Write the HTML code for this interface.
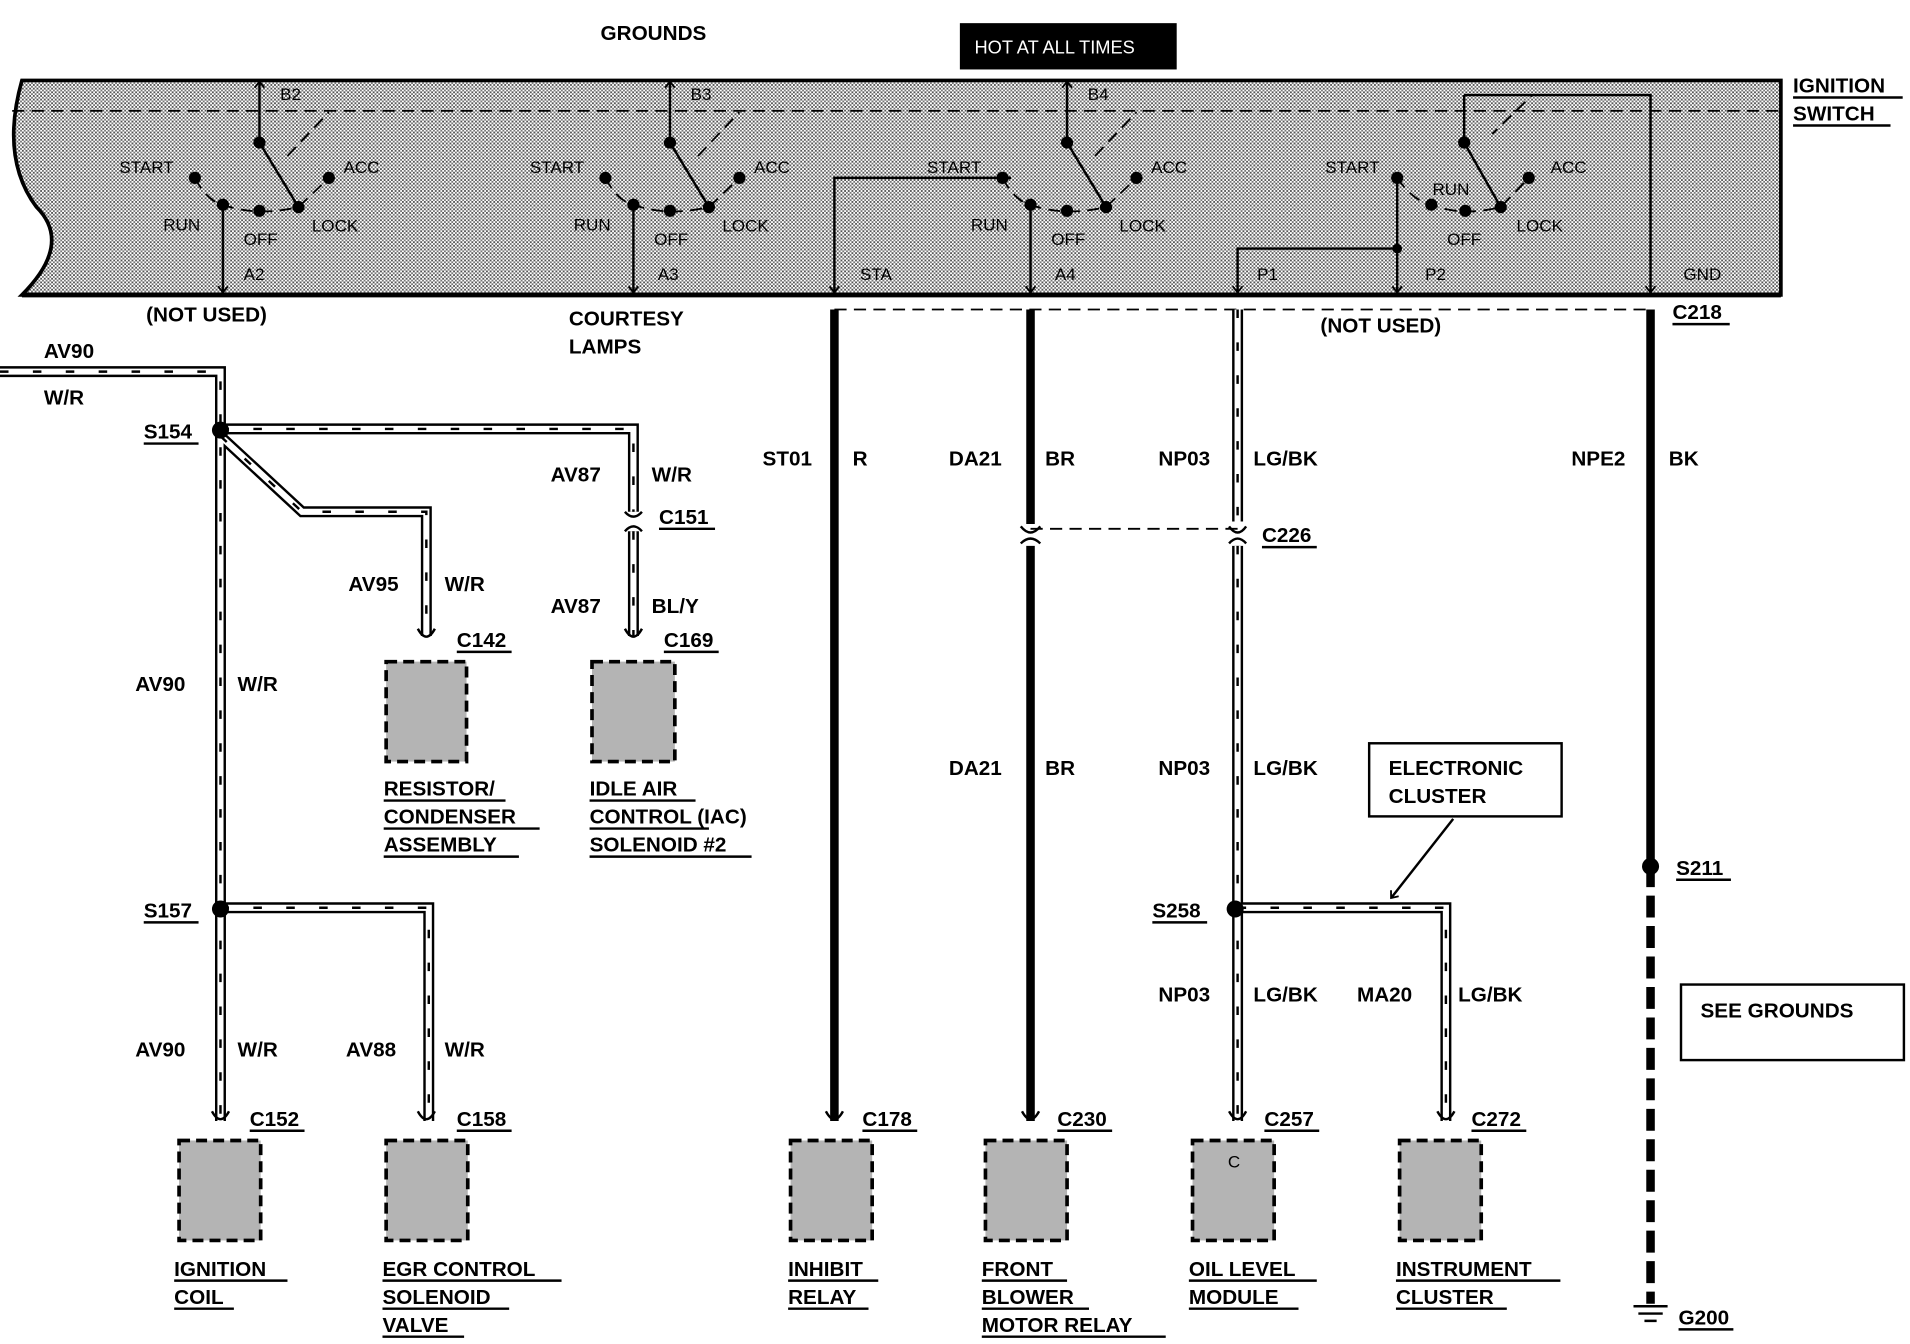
<!DOCTYPE html>
<html><head><meta charset="utf-8"><style>
html,body{margin:0;padding:0;background:#fff}
svg{display:block}
text{font-family:"Liberation Sans",Arial,sans-serif;font-weight:bold;font-size:17px;fill:#000}
.s{font-size:14px;font-weight:normal}
.w1{stroke:#000;stroke-width:9;fill:none}
.w2{stroke:#fff;stroke-width:5;fill:none}
.w3{stroke:#000;stroke-width:2;fill:none;stroke-dasharray:7 20}
.th{stroke:#000;stroke-width:7;fill:none}
.ln{stroke:#000;stroke-width:2;fill:none}
.dl{stroke:#000;stroke-width:1.5;fill:none;stroke-dasharray:10 6}
.box{fill:#b4b4b4;stroke:#000;stroke-width:3;stroke-dasharray:9 5}
</style></head><body>
<svg width="1910" height="1344" viewBox="0 0 1568 1103" preserveAspectRatio="none" xmlns="http://www.w3.org/2000/svg">
<defs>
<pattern id="st" width="3" height="3" patternUnits="userSpaceOnUse"><rect width="3" height="3" fill="#fff"/><rect width="1.5" height="1.5" fill="#555"/><rect x="1.5" y="1.5" width="1.5" height="1.5" fill="#777"/></pattern>
<marker id="ar" markerWidth="10" markerHeight="10" refX="8" refY="5" orient="auto" markerUnits="userSpaceOnUse"><path d="M3,1 L8,5 L3,9" stroke="#000" stroke-width="1.5" fill="none"/></marker>
<g id="sw">
 <path d="M213,95 V67" class="ln" marker-end="url(#ar)"/>
 <path d="M213,95 V117 L245,170" class="ln" stroke-width="3"/>
 <path d="M236,128 L270,92" class="dl"/>
 <path d="M160,146 Q170,165 183,168 Q210,178 245,170 L270,146" class="dl"/>
 <circle cx="213" cy="117" r="5"/><circle cx="160" cy="146" r="5"/><circle cx="183" cy="168" r="5"/><circle cx="213" cy="173" r="5"/><circle cx="245" cy="170" r="5"/><circle cx="270" cy="146" r="5"/>
 <text x="98" y="142" class="s">START</text><text x="282" y="142" class="s">ACC</text>
 <text x="134" y="189" class="s">RUN</text><text x="200" y="201" class="s">OFF</text><text x="256" y="190" class="s">LOCK</text>
</g>
</defs>
<text x="493" y="33">GROUNDS</text>
<rect x="788" y="19" width="178" height="38" fill="#000"/>
<text x="800" y="44" style="fill:#fff;font-weight:normal;font-size:15px">HOT AT ALL TIMES</text>
<text x="1472" y="76">IGNITION</text><text x="1472" y="99">SWITCH</text>
<line x1="1472" y1="80" x2="1562" y2="80" class="ln"/><line x1="1472" y1="103" x2="1552" y2="103" class="ln"/>
<path d="M18,66 H1462 V242 H18 Q60,200 30,170 Q0,130 18,66 Z" fill="url(#st)" stroke="#000" stroke-width="3"/>
<line x1="18" y1="242" x2="1462" y2="242" stroke="#000" stroke-width="4"/>
<path d="M10,91 H1460" class="dl"/>
<use href="#sw"/>
<use href="#sw" x="337"/>
<use href="#sw" x="663"/>
<text x="230" y="82" class="s">B2</text><text x="567" y="82" class="s">B3</text><text x="893" y="82" class="s">B4</text>
<path d="M1202,78 H1258 L1225,110" class="dl"/>
<path d="M1202,78 V117 L1232,170" class="ln" stroke-width="3"/>
<path d="M1147,146 Q1160,165 1175,168 Q1200,178 1232,170 L1255,146" class="dl"/>
<circle cx="1202" cy="117" r="5"/><circle cx="1147" cy="146" r="5"/><circle cx="1175" cy="168" r="5"/><circle cx="1203" cy="173" r="5"/><circle cx="1232" cy="170" r="5"/><circle cx="1255" cy="146" r="5"/>
<text x="1088" y="142" class="s">START</text><text x="1273" y="142" class="s">ACC</text><text x="1176" y="160" class="s">RUN</text><text x="1188" y="201" class="s">OFF</text><text x="1245" y="190" class="s">LOCK</text>
<path d="M1202,78 H1355 V240" class="ln" marker-end="url(#ar)"/>
<path d="M1147,146 V240" class="ln" marker-end="url(#ar)"/>
<path d="M1147,204 H1016 V240" class="ln" marker-end="url(#ar)"/>
<circle cx="1147" cy="204" r="4"/>
<path d="M183,168 V240" class="ln" marker-end="url(#ar)"/>
<path d="M520,168 V240" class="ln" marker-end="url(#ar)"/>
<path d="M846,168 V240" class="ln" marker-end="url(#ar)"/>
<path d="M830,146 H685 V240" class="ln" marker-end="url(#ar)"/>
<text x="200" y="230" class="s">A2</text><text x="540" y="230" class="s">A3</text><text x="706" y="230" class="s">STA</text><text x="866" y="230" class="s">A4</text><text x="1032" y="230" class="s">P1</text><text x="1170" y="230" class="s">P2</text><text x="1382" y="230" class="s">GND</text>
<text x="120" y="264">(NOT USED)</text>
<text x="467" y="267">COURTESY</text><text x="467" y="290">LAMPS</text>
<text x="1084" y="273">(NOT USED)</text>
<text x="1373" y="262">C218</text><line x1="1373" y1="266" x2="1420" y2="266" class="ln"/>
<path d="M685,254 H1355" class="dl" stroke-width="2.5"/>
<path d="M0,305 H181 V920 M181,352 H520 V420 M520,436 V522 M181,358 L248,420 H350 V522 M181,745 H352 V920" class="w1"/>
<path d="M0,305 H181 V920 M181,352 H520 V420 M520,436 V522 M181,358 L248,420 H350 V522 M181,745 H352 V920" class="w2"/>
<path d="M0,305 H181 V920 M181,352 H520 V420 M520,436 V522 M181,358 L248,420 H350 V522 M181,745 H352 V920" class="w3"/>
<path d="M513,420 Q520,428 527,420 M513,436 Q520,428 527,436" class="ln"/>
<circle cx="181" cy="353" r="7"/><circle cx="181" cy="746" r="7"/>
<text x="36" y="294">AV90</text><text x="36" y="332">W/R</text>
<text x="118" y="360">S154</text><line x1="118" y1="364" x2="163" y2="364" class="ln"/>
<text x="118" y="753">S157</text><line x1="118" y1="757" x2="163" y2="757" class="ln"/>
<text x="452" y="395">AV87</text><text x="535" y="395">W/R</text>
<text x="541" y="430">C151</text><line x1="541" y1="434" x2="587" y2="434" class="ln"/>
<text x="286" y="485">AV95</text><text x="365" y="485">W/R</text>
<text x="452" y="503">AV87</text><text x="535" y="503">BL/Y</text>
<text x="111" y="567">AV90</text><text x="195" y="567">W/R</text>
<text x="111" y="867">AV90</text><text x="195" y="867">W/R</text>
<text x="284" y="867">AV88</text><text x="365" y="867">W/R</text>
<path d="M685,254 V920" class="th"/>
<path d="M846,254 V430 M846,448 V920" class="th"/>
<path d="M1355,254 V710" class="th"/>
<path d="M1355,710 V1070" class="th" stroke-dasharray="18 7"/>
<path d="M1016,254 V428 M1016,448 V920 M1016,745 H1187 V920" class="w1"/>
<path d="M1016,254 V428 M1016,448 V920 M1016,745 H1187 V920" class="w2"/>
<path d="M1016,254 V428 M1016,448 V920 M1016,745 H1187 V920" class="w3"/>
<path d="M838,432 Q846,442 854,432 M838,446 Q846,438 854,446 M1009,432 Q1016,442 1023,432 M1009,446 Q1016,438 1023,446" class="ln"/>
<path d="M846,434 H1016" class="dl"/>
<circle cx="1014" cy="746" r="7"/><circle cx="1355" cy="711" r="7"/>
<text x="626" y="382">ST01</text><text x="700" y="382">R</text>
<text x="779" y="382">DA21</text><text x="858" y="382">BR</text>
<text x="951" y="382">NP03</text><text x="1029" y="382">LG/BK</text>
<text x="1290" y="382">NPE2</text><text x="1370" y="382">BK</text>
<text x="1036" y="445">C226</text><line x1="1036" y1="449" x2="1081" y2="449" class="ln"/>
<text x="779" y="636">DA21</text><text x="858" y="636">BR</text>
<text x="951" y="636">NP03</text><text x="1029" y="636">LG/BK</text>
<rect x="1124" y="610" width="158" height="60" fill="#fff" stroke="#000" stroke-width="2"/>
<text x="1140" y="636">ELECTRONIC</text><text x="1140" y="659">CLUSTER</text>
<path d="M1193,672 L1142,737" class="ln" marker-end="url(#ar)"/>
<text x="946" y="753">S258</text><line x1="946" y1="757" x2="991" y2="757" class="ln"/>
<text x="1376" y="718">S211</text><line x1="1376" y1="722" x2="1421" y2="722" class="ln"/>
<text x="951" y="822">NP03</text><text x="1029" y="822">LG/BK</text>
<text x="1114" y="822">MA20</text><text x="1197" y="822">LG/BK</text>
<rect x="1380" y="808" width="183" height="62" fill="#fff" stroke="#000" stroke-width="2"/>
<text x="1396" y="835">SEE GROUNDS</text>
<path d="M1341,1072 H1369 M1345,1078 H1365 M1350,1084 H1360" class="ln"/>
<text x="1378" y="1087">G200</text><line x1="1378" y1="1091" x2="1423" y2="1091" class="ln"/>
<g class="ln">
<path d="M174,912 Q181,925 188,912 M343,912 Q350,925 357,912 M343,516 Q350,529 357,516 M513,516 Q520,529 527,516 M678,912 Q685,925 692,912 M839,912 Q846,925 853,912 M1009,912 Q1016,925 1023,912 M1180,912 Q1187,925 1194,912"/>
</g>
<rect x="317" y="543" width="66" height="82" class="box"/>
<rect x="486" y="543" width="68" height="82" class="box"/>
<rect x="147" y="936" width="67" height="82" class="box"/>
<rect x="317" y="936" width="67" height="82" class="box"/>
<rect x="649" y="936" width="67" height="82" class="box"/>
<rect x="809" y="936" width="67" height="82" class="box"/>
<rect x="979" y="936" width="67" height="82" class="box"/>
<rect x="1149" y="936" width="67" height="82" class="box"/>
<text x="1008" y="958" class="s">C</text>
<text x="375" y="531">C142</text><text x="545" y="531">C169</text>
<text x="205" y="924">C152</text><text x="375" y="924">C158</text><text x="708" y="924">C178</text><text x="868" y="924">C230</text><text x="1038" y="924">C257</text><text x="1208" y="924">C272</text>
<g class="ln">
<path d="M375,535 H420 M545,535 H590 M205,928 H250 M375,928 H420 M708,928 H753 M868,928 H913 M1038,928 H1083 M1208,928 H1253"/>
</g>
<text x="315" y="653">RESISTOR/</text><text x="315" y="676">CONDENSER</text><text x="315" y="699">ASSEMBLY</text>
<text x="484" y="653">IDLE AIR</text><text x="484" y="676">CONTROL (IAC)</text><text x="484" y="699">SOLENOID #2</text>
<text x="143" y="1047">IGNITION</text><text x="143" y="1070">COIL</text>
<text x="314" y="1047">EGR CONTROL</text><text x="314" y="1070">SOLENOID</text><text x="314" y="1093">VALVE</text>
<text x="647" y="1047">INHIBIT</text><text x="647" y="1070">RELAY</text>
<text x="806" y="1047">FRONT</text><text x="806" y="1070">BLOWER</text><text x="806" y="1093">MOTOR RELAY</text>
<text x="976" y="1047">OIL LEVEL</text><text x="976" y="1070">MODULE</text>
<text x="1146" y="1047">INSTRUMENT</text><text x="1146" y="1070">CLUSTER</text>
<g class="ln">
<path d="M315,657 H415 M315,680 H443 M315,703 H426 M484,657 H571 M484,680 H582 M484,703 H617 M143,1051 H236 M143,1074 H192 M314,1051 H461 M314,1074 H418 M314,1097 H381 M647,1051 H721 M647,1074 H713 M806,1051 H876 M806,1074 H894 M806,1097 H957 M976,1051 H1081 M976,1074 H1066 M1146,1051 H1281 M1146,1074 H1237"/>
</g>
</svg>
</body></html>
